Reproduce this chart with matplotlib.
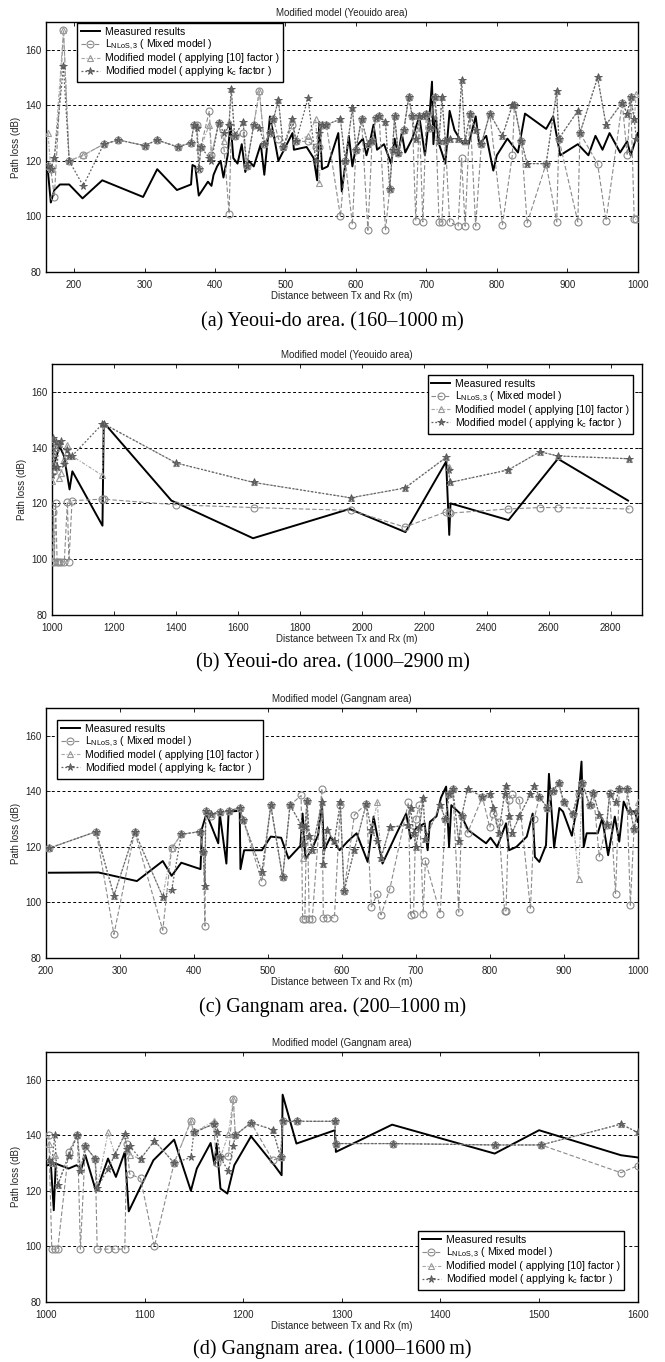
import matplotlib
matplotlib.use('Agg')
import matplotlib.pyplot as plt

plt.rcParams['font.family'] = ['Liberation Sans', 'DejaVu Sans']
plt.rcParams['mathtext.fontset'] = 'custom'
plt.rcParams['mathtext.rm'] = 'Liberation Sans'

# ---- (a) Yeouido 160-1000 m
a_meas_x = [163, 167, 172, 180, 193, 212, 240, 298, 318, 346, 366, 368, 372, 377, 390,
            395, 398, 403, 408, 412, 418, 422, 426, 432, 438, 443, 448, 455, 465, 470,
            478, 485, 490, 500, 510, 512, 530, 540, 545, 548, 552, 560, 570, 575, 580,
            590, 595, 600, 610, 615, 620, 625, 630, 640, 650, 655, 660, 665, 670, 680,
            690, 698, 705, 708, 710, 713, 718, 722, 727, 733, 740, 752, 760, 770, 775,
            785, 795, 800, 815, 830, 840, 870, 880, 890, 915, 930, 940, 950, 960, 975,
            985, 990, 1000]
a_meas = [116, 105, 109.5, 111.5, 111.5, 106.5, 113, 107, 117, 109.5, 111.5, 118.5, 118, 107.5, 112.5,
          111, 115, 118, 120, 114, 122, 134, 121, 119, 126, 116, 120, 118, 126, 115,
          136, 127, 120, 125, 130, 124, 125, 121, 113, 134, 117, 118, 126, 130, 109,
          129, 118, 125, 128, 122, 127, 133, 124, 126, 119, 128, 122, 130, 123, 128,
          136, 122, 138, 148.5, 126, 136, 126, 123, 119, 138, 131, 126, 126, 136, 126,
          129, 116.5, 122, 128, 123, 137, 131.5, 136, 122, 126, 122, 129, 124, 130, 123,
          127, 122, 130]
a_dist = [163, 167, 172, 185, 193, 213, 242, 263, 300, 318, 347, 366, 370, 374, 377,
          380, 392, 395, 405, 413, 420, 423, 428, 440, 445, 455, 463, 470, 478, 483,
          490, 497, 510, 515, 532, 543, 548, 552, 558, 578, 585, 595, 600, 608, 617,
          623, 628, 633, 642, 648, 652, 655, 660, 668, 675, 680, 685, 690, 695, 700,
          705, 712, 718, 722, 727, 733, 745, 750, 755, 762, 770, 778, 790, 808, 822,
          825, 835, 843, 870, 885, 888, 915, 918, 943, 955, 978, 985, 990, 995, 998]
a_mixed = [118, 117, 107, 167, 120, 122, 126, 127.5, 125.5, 127.5, 125, 126.5, 133, 133, 117,
           125, 138, 122, 133.5, 124, 101, 130, 129, 130, 118, 133, 145, 126, 130, 135,
           128, 125, 133, 127, 127, 125, 125, 133, 133, 100, 120, 97, 124, 135, 95,
           127, 135.5, 136, 95, 110, 124, 136, 123, 131, 143, 136, 98.5, 136, 98, 137,
           132, 143, 98, 98, 127, 98, 96.5, 121, 96.5, 137, 96.5, 126, 137, 97, 122,
           140, 127, 97.5, 119, 98, 128, 98, 130, 119, 98.5, 141, 122, 143, 99, 99]
a_mod10 = [130, 117, 121, 167, 120, 122, 126, 127.5, 125.5, 127.5, 125, 126.5, 133, 133, 125,
           125, 133, 122, 133.5, 127, 134, 146, 129, 134, 118, 133, 145, 126, 130, 135,
           142, 125, 135, 127, 129, 135, 112, 133, 133, 135, 120, 139, 124, 135, 126,
           127, 135.5, 136, 134, 110, 124, 136, 123, 131, 143, 136, 128, 136, 136, 137,
           132, 143, 127, 143, 127, 128, 128, 149, 127, 137, 131, 126, 137, 129, 140,
           140, 127, 119, 119, 145, 128, 138, 130, 150, 133, 141, 137, 143, 135, 144]
a_modkc = [118, 117, 121, 154, 120, 111, 126, 127.5, 125.5, 127.5, 125, 126.5, 133, 132, 117,
           125, 121, 120, 133.5, 130, 133, 146, 129, 134, 118, 133, 132, 126, 130, 135,
           142, 125, 135, 127, 142.5, 120, 130, 133, 133, 135, 120, 139, 124, 135, 126,
           127, 135.5, 136, 134, 110, 124, 136, 123, 131, 143, 136, 128, 136, 136, 137,
           132, 143, 127, 143, 127, 128, 128, 149, 127, 137, 131, 126, 137, 129, 140,
           140, 127, 119, 119, 145, 128, 138, 130, 150, 133, 141, 137, 143, 135, 128]

# ---- (b) Yeouido 1000-2900 m
b_meas_x = [1004, 1025, 1039, 1057, 1066, 1163, 1167, 1385, 1648, 1959, 2139, 2270, 2280,
            2284, 2471, 2630, 2856]
b_meas = [133, 140.5, 137, 125, 131.5, 112, 149, 121, 107.5, 118, 109.7, 135, 108.7,
          120, 114, 136, 121]
b_dist = [1002, 1005, 1008, 1012, 1017, 1022, 1030, 1040, 1050, 1055, 1065, 1163, 1167,
          1400, 1650, 1962, 2137, 2270, 2278, 2282, 2470, 2572, 2630, 2860]
b_mixed = [99, 117, 99, 120, 99, 99, 99, 99, 120.5, 99, 121, 121.5, 121.5,
           119.5, 118.5, 117.5, 111.5, 117, 117, 116.5, 118, 118.5, 118.5, 118]
b_mod10 = [128, 143, 132, 140, 133, 129, 131, 136, 141, 137, 137, 130, 148.5,
           134.5, 127.5, 122, 125.5, 136.5, 133, 127.5, 132, 138.5, 137, 136]
b_modkc = [130, 143.5, 133, 142, 133, 141, 142.5, 134, 139, 137, 137, 148.5, 148.5,
           134.5, 127.5, 122, 125.5, 136.5, 132, 127.5, 132, 138.5, 137, 136]

# ---- (c) Gangnam 200-1000 m
c_meas_x = [204, 271, 323, 358, 370, 383, 409, 411, 417, 433, 435, 444, 447, 462, 463,
            468, 492, 504, 518, 528, 544, 547, 551, 559, 568, 573, 576, 585, 597, 608,
            620, 635, 643, 655, 672, 687, 693, 700, 712, 716, 719, 728, 734, 741, 745,
            748, 760, 771, 795, 801, 810, 822, 826, 836, 850, 858, 861, 867, 876, 880,
            887, 894, 899, 911, 920, 924, 927, 931, 946, 952, 960, 969, 975, 981, 987,
            996, 1000]
c_meas = [110.7, 110.8, 107.7, 114.9, 109.6, 114.3, 112, 126.6, 132, 121.3, 132, 114, 132.7, 133, 112,
          118.8, 118.8, 123.7, 123.3, 115.8, 120.4, 132, 115.6, 118.8, 124.3, 136.5, 118.8, 123.7, 118.8, 122,
          124.9, 114.6, 130.9, 114, 123.7, 132, 123, 126.6, 128.5, 118.8, 129, 131, 137.7, 141.7, 120,
          135, 132, 126, 121.3, 123.3, 120, 128.5, 118.8, 120, 123.7, 132, 116.4, 114.6, 120.6, 146.3,
          119.7, 134, 132.7, 124, 138, 150.7, 120, 124.9, 124.9, 130.3, 117, 130.9, 121.9, 136.3, 132.7,
          132.7, 129]
c_dist = [204, 268, 292, 320, 358, 370, 383, 408, 413, 415, 416, 423, 435, 447, 462,
          467, 492, 504, 520, 530, 545, 547, 550, 553, 556, 560, 573, 575, 580, 590,
          598, 603, 617, 633, 640, 648, 653, 665, 690, 693, 697, 700, 705, 710, 713,
          733, 740, 745, 750, 758, 762, 770, 790, 800, 805, 812, 820, 822, 826, 830,
          840, 855, 860, 867, 878, 885, 893, 900, 912, 920, 925, 935, 940, 948, 958,
          962, 970, 975, 985, 990, 995, 1000]
c_mixed = [119.5, 125.5, 88.5, 125.5, 90, 119.5, 124.5, 125.5, 118, 91.5, 133, 131, 132.5, 133, 134,
           129.5, 107.5, 135, 109, 135, 138.5, 94, 94, 136.5, 94, 94, 141, 94.5, 94.5, 94.5,
           135, 104, 131.5, 135.5, 98.5, 103, 95.5, 105, 136, 95.5, 96, 130, 135, 96, 115,
           96, 130, 139, 141, 96.5, 131, 125, 138, 127, 132, 129, 97, 97, 137, 139,
           137, 97.5, 130, 138, 134, 140, 143, 136, 132, 139, 143, 135, 139.5, 116.5, 128,
           139.5, 103, 141, 141, 99, 126.5, 133]
c_mod10 = [119.5, 125.5, 102.5, 125.5, 102, 119.5, 124.5, 125.5, 118, 106, 133, 132, 132.5, 133, 134,
           129.5, 111, 135, 109, 135, 128, 116, 127, 136.5, 124, 119, 136, 114, 126, 122,
           136, 104, 119, 135.5, 126, 136, 116, 127, 128, 134, 125, 120, 127, 137.5, 123,
           135, 130, 139, 141, 122, 131, 141, 138, 139, 134, 125, 139, 142, 131, 125,
           131, 139, 142, 138, 134, 140, 143, 136, 132, 108.5, 143, 135, 139.5, 131.5, 128,
           139, 136, 141, 141, 133, 126.5, 136]
c_modkc = [119.5, 125.5, 102.5, 125.5, 102, 104.5, 124.5, 125.5, 118, 106, 133, 132, 132.5, 133, 134,
           129.5, 111, 135, 109, 135, 128, 121, 127, 136.5, 124, 119, 136, 114, 126, 122,
           136, 104, 119, 135.5, 126, 122, 116, 127, 128, 134, 125, 120, 127, 137.5, 123,
           135, 130, 139, 141, 122, 131, 141, 138, 139, 134, 125, 139, 142, 131, 125,
           131, 139, 142, 138, 134, 140, 143, 136, 132, 140, 143, 135, 139.5, 131.5, 128,
           139, 136, 141, 141, 133, 126.5, 133]

# ---- (d) Gangnam 1000-1600 m
d_meas_x = [1002, 1005, 1008, 1010, 1023, 1031, 1036, 1040, 1051, 1063, 1071, 1080, 1084,
            1109, 1130, 1147, 1153, 1167, 1171, 1173, 1177, 1184, 1191, 1208, 1232, 1239,
            1240, 1254, 1293, 1294, 1351, 1455, 1500, 1583, 1600]
d_meas = [129.2, 129.8, 113, 129.8, 128, 129.2, 128, 132.8, 119.6, 131.6, 125, 134, 112.6,
          131, 138.4, 120, 128, 137.2, 129.2, 137, 120.8, 119, 129.2, 139.6, 129, 125.6,
          154.6, 137, 141.8, 134, 143.8, 133.4, 141.8, 132.8, 132]
d_dist = [1003, 1006, 1009, 1012, 1023, 1032, 1035, 1040, 1050, 1052, 1063, 1070, 1080,
          1082, 1085, 1096, 1110, 1130, 1147, 1150, 1170, 1173, 1177, 1185, 1190, 1192,
          1208, 1230, 1238, 1240, 1255, 1293, 1294, 1352, 1455, 1502, 1583, 1600]
d_mixed = [140, 99, 99, 99, 134, 140, 99, 136, 131.5, 99, 99, 99, 99,
           137, 126, 124.5, 100, 130, 145, 141, 144, 130, 132, 132.5, 153, 140,
           144.5, 131, 132, 145, 145, 145, 137, 137, 136.5, 136.5, 126.5, 129]
d_mod10 = [137, 130, 133, 122, 133, 140, 128, 136, 131.5, 121, 141, 133, 140,
           135, 133, 131.5, 138, 130, 145, 141, 145, 141, 132, 140.5, 153, 140,
           144.5, 142, 132, 145, 145, 145, 137, 137, 136.5, 136.5, 144, 141]
d_modkc = [131, 130, 140, 122, 132.5, 140, 127, 136, 131.5, 121, 128, 133, 140.5,
           135, 136, 131.5, 138, 130, 132, 141, 144, 141, 132, 127, 136, 140,
           144.5, 142, 132, 145, 145, 145, 137, 137, 136.5, 136.5, 144, 141]

titles = ['Modified model (Yeouido area)', 'Modified model (Yeouido area)',
          'Modified model (Gangnam area)', 'Modified model (Gangnam area)']
captions = ['(a) Yeoui-do area. (160\u20131000\u2009m)', '(b) Yeoui-do area. (1000\u20132900\u2009m)',
            '(c) Gangnam area. (200\u20131000\u2009m)', '(d) Gangnam area. (1000\u20131600\u2009m)']
xlims = [(160, 1000), (1000, 2900), (200, 1000), (1000, 1600)]
xtick_sets = [range(200, 1001, 100), range(1000, 2801, 200),
              range(200, 1001, 100), range(1000, 1601, 100)]
labels = ['Measured results', r'L$_\mathregular{NLoS,3}$ ( Mixed model )',
          'Modified model ( applying [10] factor )',
          r'Modified model ( applying k$_\mathregular{c}$ factor )']

panels = [
    (a_meas_x, a_meas, a_dist, a_mixed, a_mod10, a_modkc),
    (b_meas_x, b_meas, b_dist, b_mixed, b_mod10, b_modkc),
    (c_meas_x, c_meas, c_dist, c_mixed, c_mod10, c_modkc),
    (d_meas_x, d_meas, d_dist, d_mixed, d_mod10, d_modkc),
]

# axes boxes in figure fractions (left, bottom, width, height)
boxes = [(0.069, 0.8003, 0.890, 0.1836),
         (0.078, 0.5485, 0.887, 0.1843),
         (0.069, 0.2966, 0.890, 0.1836),
         (0.069, 0.0441, 0.890, 0.1836)]
legend_pos = [('upper left', (0.053, 0.995)), ('upper right', (0.985, 0.956)),
              ('upper left', (0.019, 0.952)), ('lower right', (0.976, 0.048))]
caption_y = [0.7636, 0.5132, 0.2606, 0.0095]

fig = plt.figure(figsize=(6.65, 13.62), dpi=100)

for i, (mx, mv, dx, mixed, mod10, modkc) in enumerate(panels):
    ax = fig.add_axes(boxes[i])
    ax.plot(mx, mv, color='black', lw=1.4, label=labels[0], zorder=3)
    ax.plot(dx, mixed, color='#8a8a8a', ls=(0, (4, 2)), lw=0.8, marker='o', ms=5,
            mfc='none', mec='#8a8a8a', mew=0.8, label=labels[1], zorder=4)
    ax.plot(dx, mod10, color='#a5a5a5', ls=(0, (3, 1.5, 1, 1.5)), lw=0.8, marker='^', ms=5,
            mfc='none', mec='#999999', mew=0.8, label=labels[2], zorder=5)
    ax.plot(dx, modkc, color='#626262', ls=(0, (1.5, 1.5)), lw=0.9, marker='*', ms=5.5,
            mfc='#707070', mec='#555555', mew=0.6, label=labels[3], zorder=6)

    ax.set_xlim(*xlims[i])
    ax.set_ylim(80, 170)
    ax.set_xticks(list(xtick_sets[i]))
    ax.set_yticks(range(80, 161, 20))
    ax.yaxis.grid(True, ls=(0, (3, 2.5)), color='black', lw=0.7)
    ax.tick_params(direction='in', top=True, right=True, length=3, width=0.7,
                   labelsize=7, colors='#222222')
    ax.tick_params(axis='x', pad=5.5)
    ax.tick_params(axis='y', pad=3)
    for sp in ax.spines.values():
        sp.set_linewidth(1.0)
    ax.set_title(titles[i], fontsize=7, pad=4, color='#222222')
    ax.set_xlabel('Distance between Tx and Rx (m)', fontsize=7, labelpad=1, color='#222222')
    ax.set_ylabel('Path loss (dB)', fontsize=7, labelpad=3, color='#222222')

    loc, anchor = legend_pos[i]
    leg = ax.legend(loc=loc, bbox_to_anchor=anchor, borderaxespad=0, fontsize=7.5,
                    fancybox=False, framealpha=1, edgecolor='black',
                    handlelength=1.8, handletextpad=0.5, labelspacing=0.1, borderpad=0.35)
    leg.get_frame().set_linewidth(1.0)

    fig.text(0.5, caption_y[i], captions[i], ha='center', va='center', fontsize=14.5,
             family=['Liberation Serif', 'DejaVu Serif'])

fig.savefig('out.png', dpi=100)
